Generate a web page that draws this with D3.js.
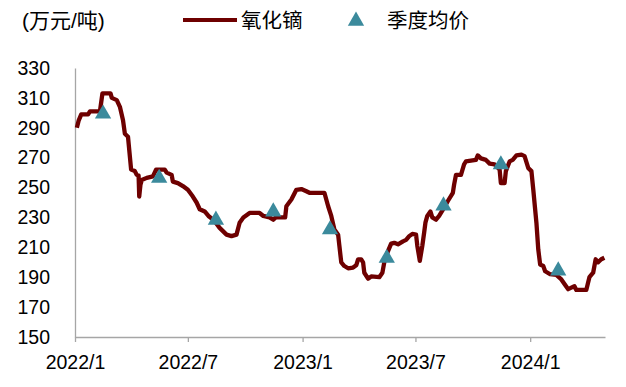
<!DOCTYPE html>
<html>
<head>
<meta charset="utf-8">
<script src="https://cdn.jsdelivr.net/npm/d3@7"></script>
<style>
  body { margin: 0; background: #fff; }
  text { font-family: "Liberation Sans", Arial, "Noto Sans CJK SC", sans-serif; }
</style>
</head>
<body>
<div id="chart"></div>
<script>
// 氧化镝价格（万元/吨），按日期读取的拐点
const priceDates = [
  "2022-01-04","2022-01-07","2022-01-11","2022-01-22","2022-01-25","2022-02-10","2022-02-14","2022-02-27",
  "2022-03-01","2022-03-09","2022-03-14","2022-03-19","2022-03-22","2022-03-27","2022-04-01","2022-04-07",
  "2022-04-10","2022-04-13","2022-04-14","2022-04-16","2022-04-18","2022-04-26","2022-05-06","2022-05-11",
  "2022-05-25","2022-05-28","2022-06-05","2022-06-07","2022-06-15","2022-06-23","2022-07-01","2022-07-09",
  "2022-07-15","2022-07-20","2022-07-28","2022-08-03","2022-08-12","2022-08-21","2022-09-01","2022-09-09",
  "2022-09-17","2022-09-22","2022-09-28","2022-10-08","2022-10-24","2022-10-30","2022-11-09","2022-11-15",
  "2022-11-19","2022-12-04","2022-12-06","2022-12-14","2022-12-22","2022-12-30","2023-01-07","2023-01-12",
  "2023-02-05","2023-02-11","2023-02-16","2023-02-21","2023-02-27","2023-03-01","2023-03-04","2023-03-09",
  "2023-03-15","2023-03-23","2023-03-28","2023-03-31","2023-04-05","2023-04-08","2023-04-10","2023-04-16",
  "2023-04-21","2023-05-04","2023-05-09","2023-05-12","2023-05-18","2023-05-23","2023-05-28","2023-06-03",
  "2023-06-11","2023-06-16","2023-06-21","2023-06-26","2023-07-02","2023-07-04","2023-07-08","2023-07-12",
  "2023-07-15","2023-07-17","2023-07-20","2023-07-25","2023-07-28","2023-08-03","2023-08-08","2023-08-16",
  "2023-08-22","2023-08-30","2023-09-01","2023-09-04","2023-09-12","2023-09-17","2023-09-20","2023-09-28",
  "2023-10-06","2023-10-09","2023-10-14","2023-10-22","2023-10-28","2023-11-05","2023-11-13","2023-11-15",
  "2023-11-21","2023-11-23","2023-11-29","2023-12-04","2023-12-10","2023-12-18","2023-12-23","2023-12-29",
  "2024-01-03","2024-01-06","2024-01-11","2024-01-14","2024-01-17","2024-01-22","2024-01-25","2024-02-02",
  "2024-02-12","2024-02-20","2024-02-25","2024-03-02","2024-03-07","2024-03-12","2024-03-15","2024-03-31",
  "2024-04-05","2024-04-11","2024-04-15","2024-04-19","2024-04-24","2024-04-29"
];
const priceValues = [
  290, 295, 299, 299, 301, 301, 313, 313,
  310, 308.5, 304, 295, 286, 284, 262, 261,
  258.5, 258, 244, 252, 255, 256.5, 257.5, 262,
  262, 260, 258.5, 254, 253, 251, 248.5, 244,
  240, 235.5, 234, 231, 228, 223, 218.5, 217.5,
  218.5, 226.5, 230, 233, 233, 231, 230, 228.5,
  230, 230, 237.5, 242, 248.5, 249, 247.5, 246.5,
  246.5, 237.5, 231, 222, 218.5, 211, 200, 197.5,
  196, 196.5, 198, 202, 202, 200, 193, 189,
  190.5, 190, 193, 200, 207.5, 212.5, 213, 212,
  214, 215, 217.5, 219, 218.5, 211, 201, 211,
  220, 226.5, 231, 234, 230, 228.5, 231, 236.5,
  241, 246.5, 252, 258.5, 258.5, 265.5, 267.5, 268,
  268.5, 271.5, 269.5, 268.5, 266, 265.5, 262, 253,
  253, 261, 267.5, 268.5, 271.5, 272, 271, 263,
  261, 248.5, 226.5, 208.5, 198.5, 197.5, 194, 192,
  191.5, 188.5, 185.5, 182, 183, 184, 181.5, 181.5,
  190, 193, 202, 200, 202, 203
];

// 季度均价（季度中点）
const quarterDates = ["2022-02-15","2022-05-16","2022-08-15","2022-11-15","2023-02-14","2023-05-16","2023-08-15","2023-11-15","2024-02-15"];
const quarterValues = [300, 257, 229, 234.5, 222.5, 203.5, 238.5, 266, 195];

const xTickDates = ["2022-01-01","2022-07-01","2023-01-01","2023-07-01","2024-01-01"];
const xTickLabels = ["2022/1","2022/7","2023/1","2023/7","2024/1"];
const yTicks = [150, 170, 190, 210, 230, 250, 270, 290, 310, 330];

const width = 626, height = 387;
const margin = { top: 68, right: 21, bottom: 50, left: 75 };
const parse = d3.timeParse("%Y-%m-%d");

const svg = d3.select("#chart").append("svg")
  .attr("width", width)
  .attr("height", height);

const x = d3.scaleTime()
  .domain([parse("2022-01-01"), parse("2024-04-30")])
  .range([margin.left, width - margin.right]);

const y = d3.scaleLinear()
  .domain([150, 330])
  .range([height - margin.bottom, margin.top]);

const axisColor = "#a6a6a6";

// 坐标轴
const xAxis = svg.append("g")
  .attr("transform", `translate(0,${height - margin.bottom})`)
  .call(d3.axisBottom(x)
    .tickValues(xTickDates.map(parse))
    .tickFormat((d, i) => xTickLabels[i])
    .tickSize(5)
    .tickSizeOuter(0));
xAxis.select(".domain").attr("stroke", axisColor).attr("stroke-width", 1.3);
xAxis.selectAll(".tick line").attr("stroke", axisColor).attr("stroke-width", 1.3);
xAxis.selectAll(".tick text")
  .attr("fill", "#000")
  .attr("font-size", 19.5)
  .attr("dy", "1.22em");

const yAxis = svg.append("g")
  .attr("transform", `translate(${margin.left},0)`)
  .call(d3.axisLeft(y).tickValues(yTicks).tickSize(0).tickSizeOuter(0).tickPadding(25));
yAxis.select(".domain").attr("stroke", axisColor).attr("stroke-width", 1.3);
yAxis.selectAll(".tick text")
  .attr("fill", "#000")
  .attr("font-size", 19.5);

// 价格线
const priceData = priceDates.map((d, i) => ({ date: parse(d), value: priceValues[i] }));
const line = d3.line()
  .x(d => x(d.date))
  .y(d => y(d.value));

svg.append("path")
  .datum(priceData)
  .attr("fill", "none")
  .attr("stroke", "#6e0000")
  .attr("stroke-width", 4.3)
  .attr("stroke-linejoin", "round")
  .attr("d", line);

// 季度均价三角
const tri = d3.symbol().type(d3.symbolTriangle).size(115);
svg.selectAll(".q")
  .data(quarterDates.map((d, i) => ({ date: parse(d), value: quarterValues[i] })))
  .enter().append("path")
  .attr("class", "q")
  .attr("transform", d => `translate(${x(d.date)},${y(d.value) + 1})`)
  .attr("d", tri)
  .attr("fill", "#3b8a9c");

// 单位与图例
svg.append("text")
  .attr("x", 22).attr("y", 28)
  .attr("font-size", 21)
  .text("(万元/吨)");

svg.append("line")
  .attr("x1", 183).attr("x2", 237)
  .attr("y1", 20).attr("y2", 20)
  .attr("stroke", "#6e0000").attr("stroke-width", 4);
svg.append("text")
  .attr("x", 241).attr("y", 28)
  .attr("font-size", 20.5)
  .text("氧化镝");

svg.append("path")
  .attr("transform", "translate(356,21)")
  .attr("d", tri)
  .attr("fill", "#3b8a9c");
svg.append("text")
  .attr("x", 387).attr("y", 28)
  .attr("font-size", 20.5)
  .text("季度均价");
</script>
</body>
</html>
